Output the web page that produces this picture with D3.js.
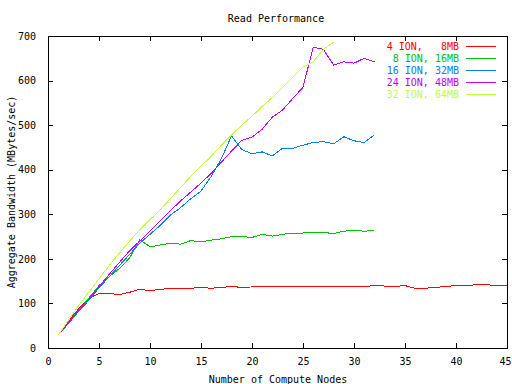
<!DOCTYPE html>
<html><head><meta charset="utf-8">
<script src="https://cdn.jsdelivr.net/npm/d3@7"></script>
<style>
body{margin:0;background:#fff;}
text{font-family:"DejaVu Sans Mono",monospace;font-size:10px;fill:#000;}
</style></head><body>
<svg id="c" width="512" height="384"></svg>
<script>
const title = "Read Performance";
const xLabel = "Number of Compute Nodes";
const yLabel = "Aggregate Bandwidth (MBytes/sec)";
const xTicks = [0,5,10,15,20,25,30,35,40,45];
const yTicks = [0,100,200,300,400,500,600,700];
const seriesNames = ["4 ION,   8MB"," 8 ION, 16MB","16 ION, 32MB","24 ION, 48MB","32 ION, 64MB"];
const seriesColors = ["#ff0000","#00c000","#0080ff","#c000ff","#c0ff40"];
const ion4 = [29,60,88,112,122,122,120,125,132,128,132,133,134,134,136,134,136,138,136,137,138,137,138,138,139,139,139,139,139,138,138,140,139,138,140,134,134,136,138,140,140,142,142,140,140];
const ion8 = [29,58,85,112,140,160,178,202,243,227,231,235,233,241,238,242,245,250,250,248,255,251,255,258,258,259,259,257,262,264,262,264];
const ion16 = [29,55,82,107,135,160,185,210,235,255,275,298,315,335,352,385,425,476,445,436,440,431,448,448,455,461,463,458,474,465,461,478];
const ion24 = [29,57,84,110,138,165,192,218,240,262,285,308,330,350,370,392,417,442,466,473,491,518,534,560,585,675,670,635,642,639,650,642];
const ion32 = [29,62,95,125,155,185,213,240,265,288,310,335,360,385,408,430,455,478,500,520,542,562,585,608,630,642,670,686];
const allSeries = [ion4, ion8, ion16, ion24, ion32];

const svg = d3.select("#c");
const L=48, R=507, T=36, B=348;
const x = d3.scaleLinear().domain([0,45]).range([L,R]);
const y = d3.scaleLinear().domain([0,700]).range([B,T]);

svg.append("rect").attr("x",L).attr("y",T).attr("width",R-L).attr("height",B-T)
  .attr("fill","none").attr("stroke","#000").attr("shape-rendering","crispEdges");

const ax = (g)=>g.selectAll(".domain").remove();
const gx = svg.append("g").attr("transform",`translate(0,${B})`)
  .call(d3.axisBottom(x).tickValues(xTicks).tickSizeInner(-5).tickSizeOuter(0).tickPadding(10))
  .call(ax);
gx.selectAll(".tick text").filter(d=>d===45).attr("dx",-2);
svg.append("g").attr("transform",`translate(0,${T})`)
  .call(d3.axisTop(x).tickValues(xTicks).tickSizeInner(-5).tickSizeOuter(0).tickFormat(""))
  .call(ax);
svg.append("g").attr("transform",`translate(${L},0)`)
  .call(d3.axisLeft(y).tickValues(yTicks).tickSizeInner(-5).tickSizeOuter(0).tickPadding(12))
  .call(ax);
svg.append("g").attr("transform",`translate(${R},0)`)
  .call(d3.axisRight(y).tickValues(yTicks).tickSizeInner(-5).tickSizeOuter(0).tickFormat(""))
  .call(ax);
svg.selectAll(".tick line").attr("stroke","#000").attr("shape-rendering","crispEdges");
svg.selectAll(".tick text").style("font-family","'DejaVu Sans Mono',monospace").style("font-size","10px").attr("fill","#000");

svg.append("text").attr("x",276).attr("y",22).attr("text-anchor","middle").text(title);
svg.append("text").attr("x",278).attr("y",383).attr("text-anchor","middle").text(xLabel);
svg.append("text").attr("transform","translate(15,192) rotate(-90)").attr("text-anchor","middle").text(yLabel);

const line = d3.line().x((d,i)=>x(i+1)).y(d=>y(d));
allSeries.forEach((s,k)=>{
  svg.append("path").datum(s).attr("d",line).attr("fill","none")
    .attr("stroke",seriesColors[k]).attr("stroke-width",1).attr("shape-rendering","crispEdges");
});

seriesNames.forEach((n,k)=>{
  const yy = 46 + k*12;
  svg.append("text").attr("x",459).attr("y",yy+3.5).attr("text-anchor","end")
    .attr("xml:space","preserve").style("white-space","pre").style("fill",seriesColors[k]).text(n);
  svg.append("line").attr("x1",466).attr("x2",496).attr("y1",yy).attr("y2",yy)
    .attr("stroke",seriesColors[k]).attr("shape-rendering","crispEdges");
});
</script>
</body></html>
